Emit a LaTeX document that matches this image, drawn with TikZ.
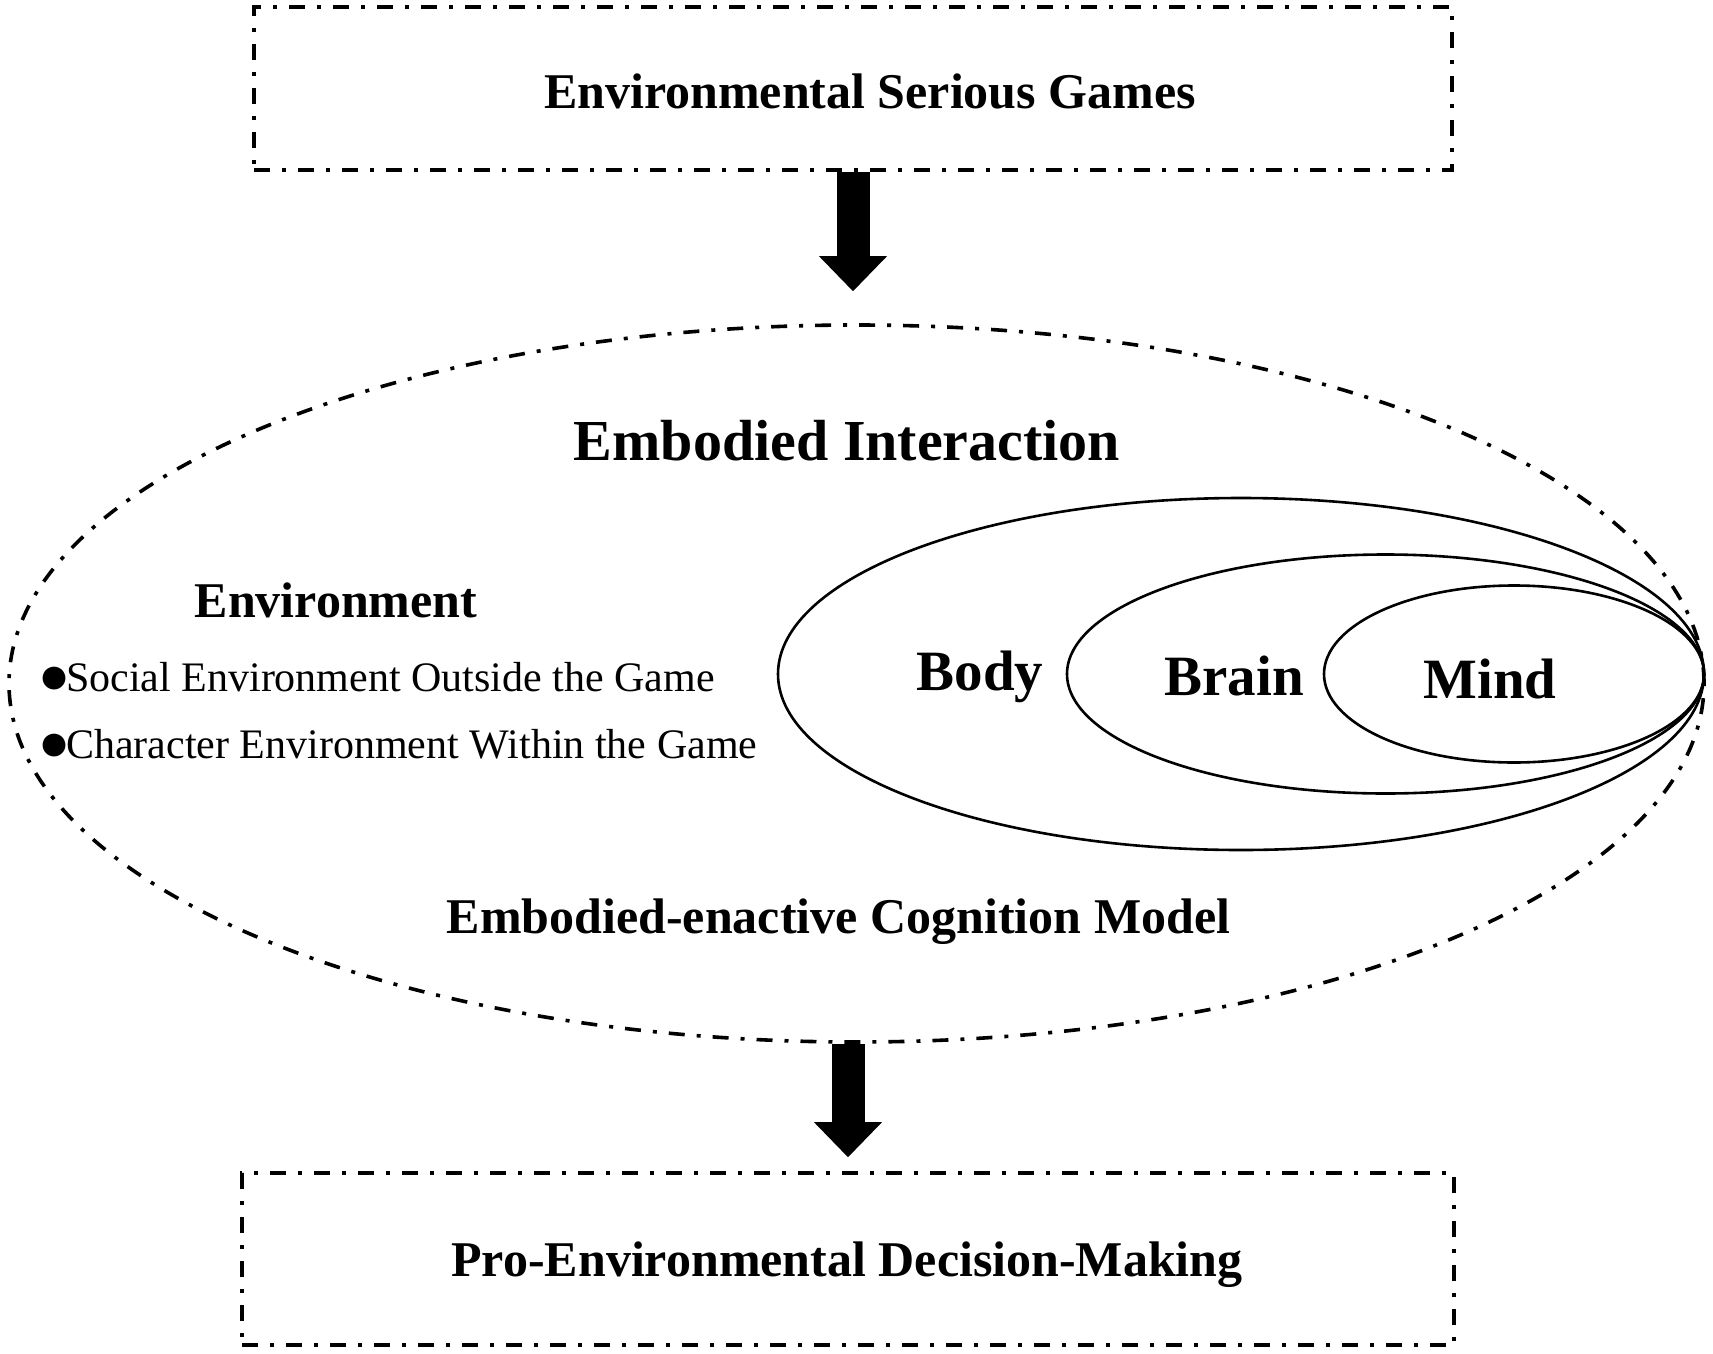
\documentclass[tikz,border=0pt]{standalone}
\usepackage{fontspec}
\setmainfont{Liberation Serif}
\usetikzlibrary{arrows.meta,shapes.geometric}

\newcommand{\bigdot}{\raisebox{-2pt}{\fontsize{53}{53}\selectfont ●}\kern-4pt}

\tikzset{
  dashdot/.style={line width=3.6pt, dash pattern=on 16pt off 12pt on 4pt off 12pt},
  bigarrow/.style={line width=33pt, -{Triangle[width=68pt,length=35pt,line width=0pt]}},
  ring/.style={line width=2.6pt},
  txt/.style={inner sep=0pt, anchor=base, font=\bfseries\fontsize{50}{60}\selectfont},
  bigtxt/.style={txt, font=\bfseries\fontsize{57}{68}\selectfont},
  bullettxt/.style={inner sep=0pt, anchor=base west, font=\fontsize{42}{50}\selectfont}
}

\begin{document}
\begin{tikzpicture}[x=1pt,y=-1pt]
\useasboundingbox (0,0) rectangle (1713,1354);
% boxes at top and bottom
\node[draw, dashdot, minimum width=1198pt, minimum height=163pt, inner sep=0pt] (esgbox) at (853,88.7) {};
\node[txt] (esg) at (870,108) {Environmental Serious Games};
\node[draw, dashdot, minimum width=1212pt, minimum height=172pt, inner sep=0pt] (pedbox) at (848,1259) {};
\node[txt] (ped) at (847,1276) {Pro-Environmental Decision-Making};
% the big dash-dot ellipse
\node[draw, dashdot, shape=ellipse, minimum width=1695pt, minimum height=717pt, inner sep=0pt] (eic) at (856.5,683.5) {};
\node[txt, font=\bfseries\fontsize{58}{70}\selectfont] (eictitle) at (847,460) {Embodied Interaction};
\node[txt] (model) at (838.5,933) {Embodied-enactive Cognition Model};
% environment list
\node[txt] (env) at (336,617) {Environment};
\node[bullettxt] (soc) at (38,691.7) {\bigdot Social Environment Outside the Game};
\node[bullettxt] (chr) at (38,758) {\bigdot Character Environment Within the Game};
% body / brain / mind
\draw[ring] (1241,674) ellipse [x radius=463, y radius=176];
\draw[ring] (1385.5,674) ellipse [x radius=318.5, y radius=119.5];
\draw[ring] (1514,674) ellipse [x radius=190, y radius=88.5];
\node[bigtxt] (body) at (980,690.7) {Body};
\node[bigtxt] (brain) at (1234,695) {Brain};
\node[bigtxt] (mind) at (1490,698) {Mind};
% arrows
\draw[bigarrow, shorten >=32pt] (esgbox.south) -- (esgbox.south |- eic.north);
\draw[bigarrow, shorten >=14pt] (pedbox.north |- eic.south) -- (pedbox.north);
\end{tikzpicture}
\end{document}
